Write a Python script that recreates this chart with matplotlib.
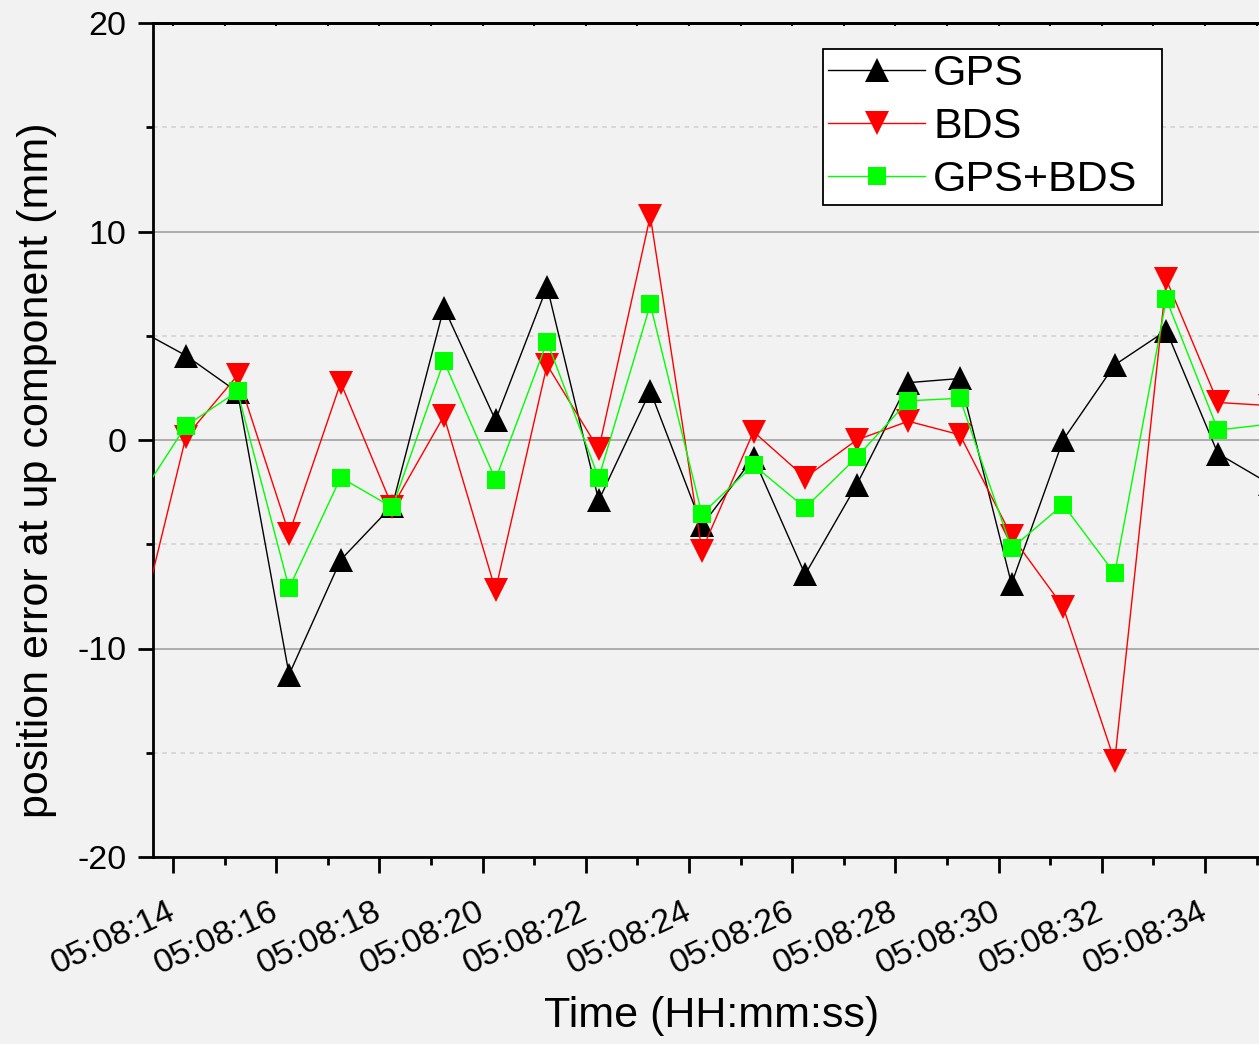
import matplotlib
matplotlib.use("Agg")
import matplotlib.pyplot as plt
from matplotlib.ticker import FixedLocator

# ---- data (seconds after 05:08:00) ----
time_s = [13.25, 14.25, 15.25, 16.25, 17.25, 18.25, 19.25, 20.25, 21.25, 22.25, 23.25,
          24.25, 25.25, 26.25, 27.25, 28.25, 29.25, 30.25, 31.25, 32.25, 33.25, 34.25, 35.25]

gps = [5.4, 4.05, 2.3, -11.25, -5.75, -3.15, 6.35, 0.95, 7.35, -2.9, 2.35,
       -4.1, -0.85, -6.45, -2.15, 2.75, 2.95, -6.9, 0.0, 3.6, 5.25, -0.65, -2.1]
bds = [-10.0, 0.15, 3.1, -4.5, 2.75, -3.2, 1.15, -7.2, 3.6, -0.45, 10.75,
       -5.3, 0.4, -1.8, 0.0, 0.9, 0.25, -4.6, -8.0, -15.4, 7.7, 1.8, 1.65]
gps_bds = [-3.15, 0.68, 2.33, -7.1, -1.8, -3.23, 3.78, -1.9, 4.72, -1.82, 6.5,
           -3.55, -1.2, -3.25, -0.83, 1.88, 2.0, -5.2, -3.1, -6.4, 6.75, 0.48, 0.76]

series_names = ["GPS", "BDS", "GPS+BDS"]
series_colors = ["#000000", "#ff0000", "#00ff00"]
series_markers = ["^", "v", "s"]
series_msize = [17, 17, 13.5]

major_ticks = [14, 16, 18, 20, 22, 24, 26, 28, 30, 32, 34]
minor_ticks = [15, 17, 19, 21, 23, 25, 27, 29, 31, 33, 35]
tick_labels = ["05:08:14", "05:08:16", "05:08:18", "05:08:20", "05:08:22", "05:08:24",
               "05:08:26", "05:08:28", "05:08:30", "05:08:32", "05:08:34"]
y_major = [-20, -10, 0, 10, 20]
y_minor = [-15, -5, 5, 15]

# ---- figure ----
plt.rcParams['font.family'] = ['Liberation Sans', 'DejaVu Sans']
plt.rcParams['axes.unicode_minus'] = False
BG = "#f2f2f2"
W, H = 1259, 1044
fig = plt.figure(figsize=(W / 100, H / 100), dpi=100, facecolor=BG)

left_px, right_px, top_px, bot_px = 153, 1284, 23, 857
ax = fig.add_axes([left_px / W, (H - bot_px) / H, (right_px - left_px) / W, (bot_px - top_px) / H])
ax.set_facecolor(BG)

px_per_s = 51.6
x0 = 14 - (173 - left_px) / px_per_s
x1 = 14 + (right_px - 173) / px_per_s
ax.set_xlim(x0, x1)
ax.set_ylim(-20, 20)

for vals, name, col, mk, ms in zip([gps, bds, gps_bds], series_names, series_colors,
                                   series_markers, series_msize):
    ax.plot(time_s, vals, color=col, lw=1.0, marker=mk, markersize=ms,
            markeredgewidth=0, markerfacecolor=col, label=name, zorder=3)

# grid
ax.yaxis.set_major_locator(FixedLocator(y_major))
ax.yaxis.set_minor_locator(FixedLocator(y_minor))
ax.grid(axis='y', which='major', color='#9a9a9a', lw=1.1)
ax.grid(axis='y', which='minor', color='#cfcfcf', lw=1.1, linestyle=(0, (3, 3)))
ax.set_axisbelow(True)

ax.set_xticks(major_ticks)
ax.set_xticklabels(tick_labels)
ax.xaxis.set_minor_locator(FixedLocator(minor_ticks))

for lbl in ax.get_xticklabels():
    lbl.set_rotation(25)
    lbl.set_ha('right')
    lbl.set_va('center')
    lbl.set_rotation_mode('anchor')

ax.tick_params(axis='x', which='major', direction='out', length=11.5, width=2, labelsize=24.5, pad=27)
ax.tick_params(axis='x', which='minor', direction='out', length=6, width=2)
ax.tick_params(axis='y', which='major', direction='out', length=11, width=2, labelsize=24.5, pad=8)
ax.tick_params(axis='y', which='minor', direction='out', length=5, width=2)

for s in ['left', 'bottom', 'top']:
    ax.spines[s].set_linewidth(2.0)
ax.spines['right'].set_visible(False)

sec = ax.secondary_xaxis('top')
sec.set_xticks(major_ticks)
sec.xaxis.set_minor_locator(FixedLocator(minor_ticks))
sec.tick_params(axis='x', which='both', direction='in', length=2.5, width=1.5, labeltop=False)
sec.spines['top'].set_linewidth(2.0)

ax.set_xlabel("Time (HH:mm:ss)", fontsize=31)
ax.set_ylabel("position error at up component (mm)", fontsize=31)
axw = right_px - left_px
axh = bot_px - top_px
ax.xaxis.set_label_coords((712 - left_px) / axw, -(996 - bot_px) / axh)
ax.yaxis.set_label_coords(-(left_px - 57) / axw, (bot_px - 470) / axh)

leg = ax.legend(loc='upper left',
                bbox_to_anchor=(823 / W, 1 - 202 / H, (1162 - 823) / W, (202 - 49) / H),
                bbox_transform=fig.transFigure, mode='expand', borderaxespad=0,
                fontsize=31, frameon=True, fancybox=False, framealpha=1,
                facecolor='white', edgecolor='black', borderpad=0.12,
                labelspacing=0.3, handlelength=2.25, handletextpad=0.19, markerscale=1.0)
leg.get_frame().set_linewidth(1.3)

fig.savefig("out.png", dpi=100, facecolor=BG)
